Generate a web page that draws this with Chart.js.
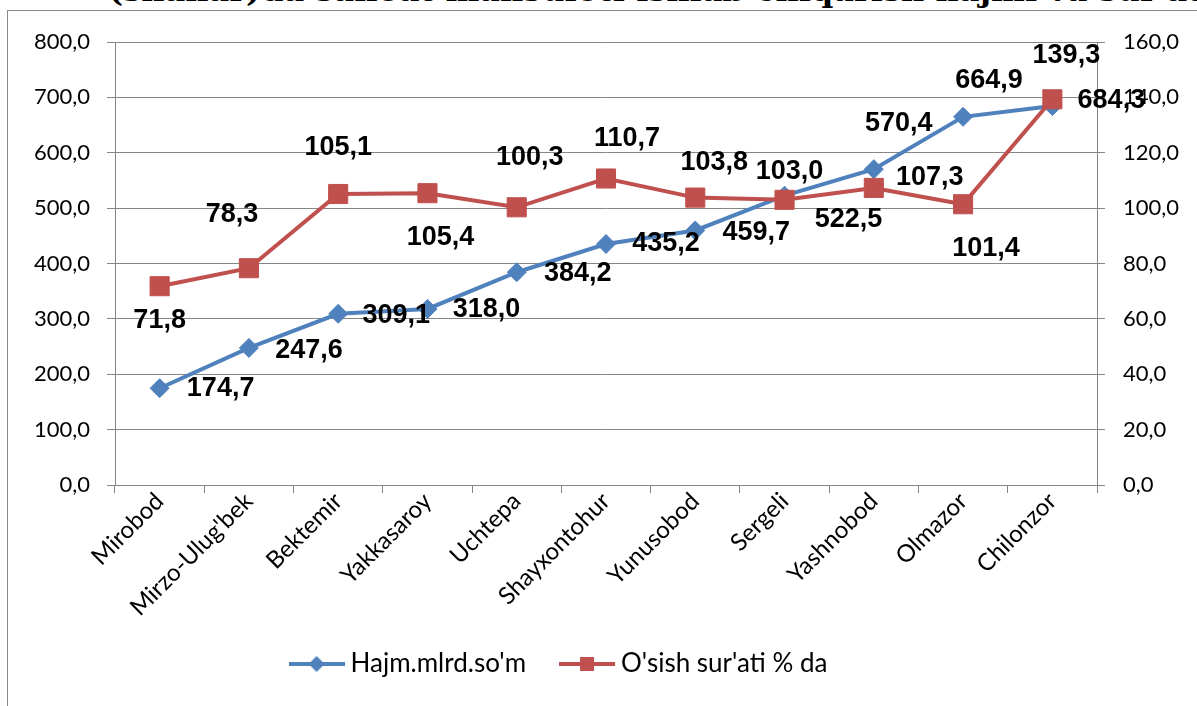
<!DOCTYPE html>
<html>
<head>
<meta charset="utf-8">
<script src="https://cdn.jsdelivr.net/npm/chart.js@4.4.0/dist/chart.umd.min.js"></script>
<style>
  html, body { margin: 0; padding: 0; background: #fff; overflow: hidden; }
  #wrap { position: relative; width: 1197px; height: 706px; }
  #title { position: absolute; left: 108px; top: -26px; font: bold 32px "DejaVu Serif"; line-height: 32px; white-space: nowrap; color: #000; }
  #frame { position: absolute; left: 7px; top: 10px; width: 1300px; height: 800px; border: 1px solid #8a8a8a; }
  #chart { position: absolute; left: 0; top: 0; }
</style>
</head>
<body>
<div id="wrap">
  <div id="title">(shahar)da sanoat mahsuloti ishlab chiqarish hajmi va sur'ati</div>
  <div id="frame"></div>
  <canvas id="chart" width="1197" height="706"></canvas>
</div>
<script>
// tumanlar
const districts = ['Mirobod', "Mirzo-Ulug'bek", 'Bektemir', 'Yakkasaroy', 'Uchtepa', 'Shayxontohur',
  'Yunusobod', 'Sergeli', 'Yashnobod', 'Olmazor', 'Chilonzor'];

// Hajm, mlrd so'm (chap o'q)
const hajm = [174.7, 247.6, 309.1, 318.0, 384.2, 435.2, 459.7, 522.5, 570.4, 664.9, 684.3];

// O'sish sur'ati, % (o'ng o'q)
const osish = [71.8, 78.3, 105.1, 105.4, 100.3, 110.7, 103.8, 103.0, 107.3, 101.4, 139.3];

// o'q chegaralari
const leftAxis = { min: 0, max: 800, step: 100 };
const rightAxis = { min: 0, max: 160, step: 20 };

// yozuvlarni nuqtadan siljitish (px)
const hajmLabelShift = [[61, 0], [60, 3], [58, 2], [59, 1], [61, 1], [60, 0], [61, 2], [64, 24], [25, -46], [26, -36], [59, -6]];
const osishLabelShift = [[0, 34], [-17, -54], [0, -46], [13, 44], [13, -50], [21, -40], [19, -35], [5, -28], [56, -10], [23, 44], [14, -44]];

const blue = '#4F81BD';
const red = '#C0504D';
const gridColor = '#868686';
const tickFont = { family: 'Lato', size: 22 };

function fmt(v) {
  return Number(v).toFixed(1).replace('.', ',');
}

// legend uchun chiziq + marker
function legendIcon(color, shape) {
  const c = document.createElement('canvas');
  c.width = 56; c.height = 20;
  const g = c.getContext('2d');
  g.strokeStyle = color;
  g.lineWidth = 4;
  g.beginPath(); g.moveTo(0, 10); g.lineTo(56, 10); g.stroke();
  g.fillStyle = color;
  g.beginPath();
  if (shape === 'diamond') {
    g.moveTo(28, 2); g.lineTo(36, 10); g.lineTo(28, 18); g.lineTo(20, 10);
  } else {
    g.rect(21, 3, 14, 14);
  }
  g.fill();
  return c;
}

const valueLabels = {
  id: 'valueLabels',
  afterDatasetsDraw(chart) {
    const ctx = chart.ctx;
    ctx.save();
    ctx.font = 'bold 27px "Liberation Sans"';
    ctx.fillStyle = '#000';
    ctx.textAlign = 'center';
    ctx.textBaseline = 'middle';
    chart.data.datasets.forEach((ds, di) => {
      const meta = chart.getDatasetMeta(di);
      meta.data.forEach((pt, i) => {
        const s = ds.labelShift[i];
        ctx.fillText(fmt(ds.data[i]), pt.x + s[0], pt.y + s[1]);
      });
    });
    ctx.restore();
  }
};

// legend biroz chapda va yuqoriroqda turadi
const legendShift = {
  id: 'legendShift',
  afterLayout(chart) {
    chart.legend.left -= 74;
    chart.legend.top -= 29;
    chart.legend.bottom -= 29;
  }
};

const icons = [legendIcon(blue, 'diamond'), legendIcon(red, 'square')];

new Chart(document.getElementById('chart'), {
  type: 'line',
  data: {
    labels: districts,
    datasets: [{
      label: "Hajm.mlrd.so'm",
      data: hajm,
      labelShift: hajmLabelShift,
      yAxisID: 'y',
      borderColor: blue,
      backgroundColor: blue,
      borderWidth: 4,
      pointStyle: 'rectRot',
      pointRadius: 9.5,
      pointBorderWidth: 1,
      tension: 0,
      order: 1
    }, {
      label: "O'sish sur'ati % da",
      data: osish,
      labelShift: osishLabelShift,
      yAxisID: 'y1',
      borderColor: red,
      backgroundColor: red,
      borderWidth: 4,
      pointStyle: 'rect',
      pointRadius: 13.5,
      pointBorderWidth: 1,
      tension: 0,
      order: 0
    }]
  },
  options: {
    responsive: false,
    animation: false,
    layout: { padding: { top: 42, left: 0, right: 0, bottom: -10 } },
    plugins: {
      tooltip: { enabled: false },
      legend: {
        position: 'bottom',
        labels: {
          usePointStyle: true,
          pointStyleWidth: 42,
          padding: 40,
          color: '#000',
          font: { family: 'Lato', size: 26 },
          generateLabels: chart => chart.data.datasets.map((ds, i) => ({
            text: ds.label,
            pointStyle: icons[i],
            fillStyle: ds.borderColor,
            strokeStyle: ds.borderColor,
            lineWidth: 0,
            hidden: false,
            datasetIndex: i
          }))
        }
      }
    },
    scales: {
      x: {
        offset: true,
        grid: { offset: true, drawOnChartArea: false, tickLength: 8, color: gridColor },
        border: { color: gridColor },
        ticks: { color: '#000', font: { family: 'Lato', size: 24 }, minRotation: 45, maxRotation: 45, autoSkip: false, padding: -6 },
        afterFit: s => { s.height = 155; }
      },
      y: {
        position: 'left',
        min: leftAxis.min,
        max: leftAxis.max,
        ticks: { stepSize: leftAxis.step, callback: v => fmt(v), color: '#000', font: tickFont, padding: 17 },
        grid: { color: gridColor, tickLength: 8 },
        border: { color: gridColor },
        afterFit: s => { s.width = 115; }
      },
      y1: {
        position: 'right',
        min: rightAxis.min,
        max: rightAxis.max,
        ticks: { stepSize: rightAxis.step, callback: v => fmt(v), color: '#000', font: tickFont, padding: 18 },
        grid: { drawOnChartArea: false, color: gridColor, tickLength: 8 },
        border: { color: gridColor },
        afterFit: s => { s.width = 100; }
      }
    }
  },
  plugins: [valueLabels, legendShift]
});
</script>
</body>
</html>
